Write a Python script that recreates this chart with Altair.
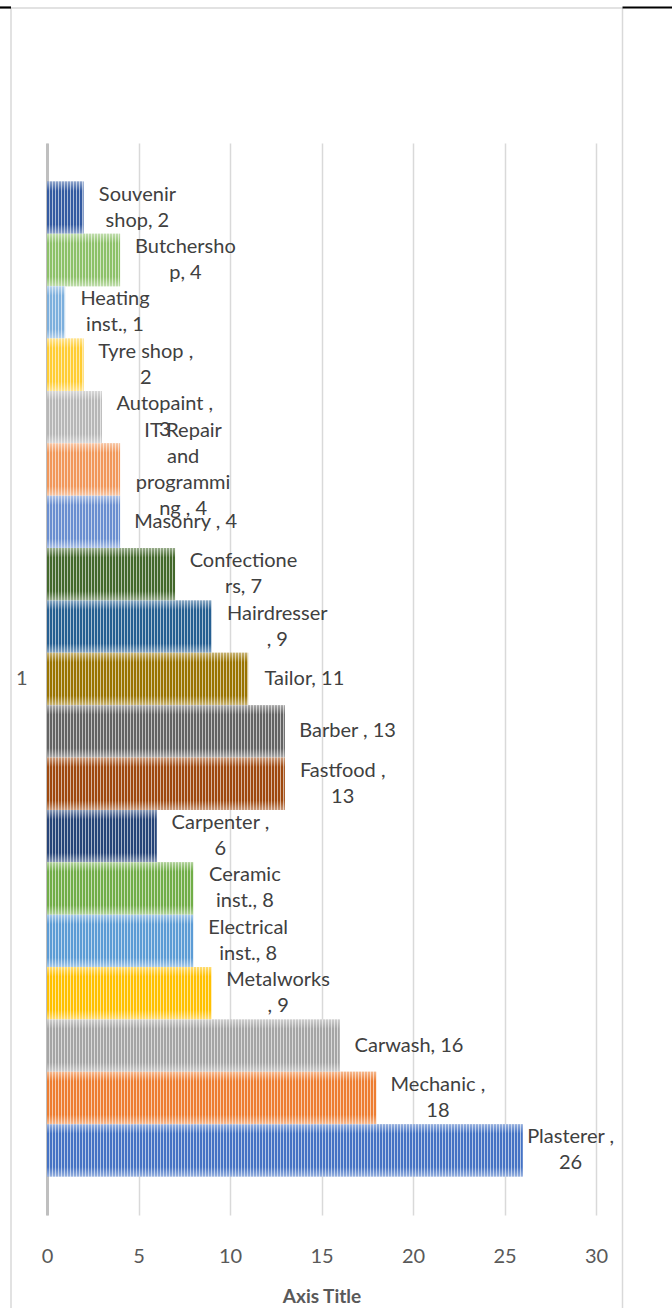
import math
import altair as alt
import pandas as pd

# ---- data (top of chart to bottom) ----
names = ["Souvenir shop", "Butchershop", "Heating inst.", "Tyre shop", "Autopaint",
         "IT Repair and programming", "Masonry", "Confectioners", "Hairdresser", "Tailor",
         "Barber", "Fastfood", "Carpenter", "Ceramic inst.", "Electrical inst.",
         "Metalworks", "Carwash", "Mechanic", "Plasterer"]
values = [2, 4, 1, 2, 3, 4, 4, 7, 9, 11, 13, 13, 6, 8, 8, 9, 16, 18, 26]
labels = ["Souvenir\nshop, 2", "Butchersho\np, 4", "Heating\ninst., 1", "Tyre shop ,\n2",
          "Autopaint ,\n3", "IT Repair\nand\nprogrammi\nng , 4", "Masonry , 4",
          "Confectione\nrs, 7", "Hairdresser\n, 9", "Tailor, 11", "Barber , 13",
          "Fastfood ,\n13", "Carpenter ,\n6", "Ceramic\ninst., 8", "Electrical\ninst., 8",
          "Metalworks\n, 9", "Carwash, 16", "Mechanic ,\n18", "Plasterer ,\n26"]
colors = ["#335AA1", "#8CC168", "#7CAFDD", "#FFCD33", "#B7B7B7", "#F1975A", "#698ED0",
          "#43682B", "#255E91", "#997300", "#636363", "#9E480E", "#264478", "#70AD47",
          "#5B9BD5", "#FFC000", "#A5A5A5", "#ED7D31", "#4472C4"]
category = "1"
x_ticks = [0, 5, 10, 15, 20, 25, 30]

# ---- layout constants ----
W, H = 549, 1072
LEFT, TOP = 47, 143
TOTAL_W, TOTAL_H = 672, 1308
XMAX = 30
PPU = W / XMAX
FONT = "Lato"
FS = 20
LH = 26

def mix(hexc, t):
    h = hexc.lstrip("#")
    r, g, b = int(h[0:2], 16), int(h[2:4], 16), int(h[4:6], 16)
    r = round(r + (255 - r) * t); g = round(g + (255 - g) * t); b = round(b + (255 - b) * t)
    return "#%02x%02x%02x" % (r, g, b)

def stripe_gradient(color, v):
    wpx = v * PPU
    light = mix(color, 0.6)
    stops = []
    for k in range(math.ceil(wpx / 3)):
        a = min(3 * k / wpx, 1); b = min((3 * k + 2) / wpx, 1); c = min((3 * k + 3) / wpx, 1)
        a, b, c = round(a, 6), round(b, 6), round(c, 6)
        stops += [{"offset": a, "color": color}, {"offset": b, "color": color},
                  {"offset": b, "color": light}, {"offset": c, "color": light}]
    return {"gradient": "linear", "x1": 0, "x2": 1, "y1": 0, "y2": 0, "stops": stops}

CW = {' ': .19, ',': .22, '.': .22, 'a': .50, 'b': .55, 'c': .46, 'd': .55, 'e': .51,
      'f': .32, 'g': .50, 'h': .55, 'i': .23, 'j': .23, 'k': .50, 'l': .23, 'm': .82,
      'n': .55, 'o': .55, 'p': .55, 'q': .55, 'r': .36, 's': .42, 't': .34, 'u': .55,
      'v': .50, 'w': .75, 'x': .49, 'y': .50, 'z': .45, 'A': .67, 'B': .63, 'C': .67,
      'D': .73, 'E': .56, 'F': .54, 'H': .74, 'I': .27, 'M': .88, 'P': .60, 'R': .62,
      'S': .53, 'T': .57}

def text_w(s):
    return sum(CW.get(ch, .58) for ch in s) * FS

df = pd.DataFrame({"cat": category, "name": names, "value": values, "label": labels})

x_enc = alt.X("value:Q", scale=alt.Scale(domain=[0, XMAX], nice=False),
              axis=alt.Axis(values=x_ticks, grid=True, gridColor="#d9d9d9", gridWidth=1.5,
                            domain=False, ticks=False, tickSize=0, labelPadding=31,
                            labelFlush=False, labelOverlap=False,
                            labelFontSize=FS, labelColor="#595959", labelFont=FONT,
                            title="Axis Title", titleFontSize=19, titleFontWeight="bold",
                            titleColor="#595959", titleFont=FONT, titlePadding=21))
y_enc = alt.Y("cat:N", scale=alt.Scale(paddingOuter=0.0387, paddingInner=0),
              axis=alt.Axis(title=None, ticks=False, domain=True, domainColor="#bfbfbf",
                            domainWidth=3, labelPadding=20, labelFontSize=FS,
                            labelColor="#595959", labelFont=FONT, grid=False))
yo_enc = alt.YOffset("name:N", scale=alt.Scale(domain=names, paddingInner=0, paddingOuter=0))

base = alt.Chart(df)
layers = []
for name, v, col in zip(names, values, colors):
    layers.append(base.transform_filter(alt.datum.name == name)
                  .mark_bar(fill=stripe_gradient(col, v))
                  .encode(x=x_enc, y=y_enc, yOffset=yo_enc))

shade = {"gradient": "linear", "x1": 0, "x2": 0, "y1": 0, "y2": 1,
         "stops": [{"offset": 0, "color": "rgba(255,255,255,0.45)"},
                   {"offset": 0.18, "color": "rgba(255,255,255,0)"},
                   {"offset": 0.82, "color": "rgba(255,255,255,0)"},
                   {"offset": 1, "color": "rgba(255,255,255,0.45)"}]}
layers.append(base.mark_bar(fill=shade).encode(x=x_enc, y=y_enc, yOffset=yo_enc))

for name, v, lab in zip(names, values, labels):
    lines = lab.split("\n")
    w = max(text_w(s) for s in lines)
    end_px = LEFT + v * PPU
    center = min(end_px + 16 + w / 2, 613 - w / 2)
    dx = center - end_px
    dy = -(len(lines) - 1) * LH / 2
    layers.append(base.transform_filter(alt.datum.name == name)
                  .mark_text(align="center", baseline="middle", dx=dx, dy=dy, lineBreak="\n",
                             fontSize=FS, lineHeight=LH, font=FONT, color="#404040")
                  .encode(x=x_enc, y=y_enc, yOffset=yo_enc, text="label:N"))

# ---- decorations: chart-area border and page rule ----
one = alt.Chart(pd.DataFrame({"k": [0]}))
bx0, bx1, by0 = 11 - LEFT, 622.5 - LEFT, 8 - TOP
byb = TOTAL_H - TOP + 5
deco = [
    one.mark_rule(color="#d9d9d9", strokeWidth=1.5).encode(x=alt.value(bx0), y=alt.value(by0), y2=alt.value(byb)),
    one.mark_rule(color="#d9d9d9", strokeWidth=1.5).encode(x=alt.value(bx1), y=alt.value(by0), y2=alt.value(byb)),
    one.mark_rule(color="#d9d9d9", strokeWidth=1.5).encode(x=alt.value(bx0), x2=alt.value(bx1), y=alt.value(by0)),
    one.mark_rule(color="#000000", strokeWidth=2.2).encode(x=alt.value(-LEFT), x2=alt.value(bx0), y=alt.value(7.5 - TOP)),
    one.mark_rule(color="#000000", strokeWidth=2.2).encode(x=alt.value(bx1), x2=alt.value(TOTAL_W - LEFT), y=alt.value(7.5 - TOP)),
]

chart = alt.layer(*layers, *deco).properties(
    width=W, height=H,
    autosize=alt.AutoSizeParams(type="none"),
    padding={"left": LEFT, "top": TOP, "right": TOTAL_W - LEFT - W, "bottom": TOTAL_H - TOP - H},
    background="white",
).configure_view(stroke=None)

chart.save("out.html", embed_options={"renderer": "svg", "actions": False})
